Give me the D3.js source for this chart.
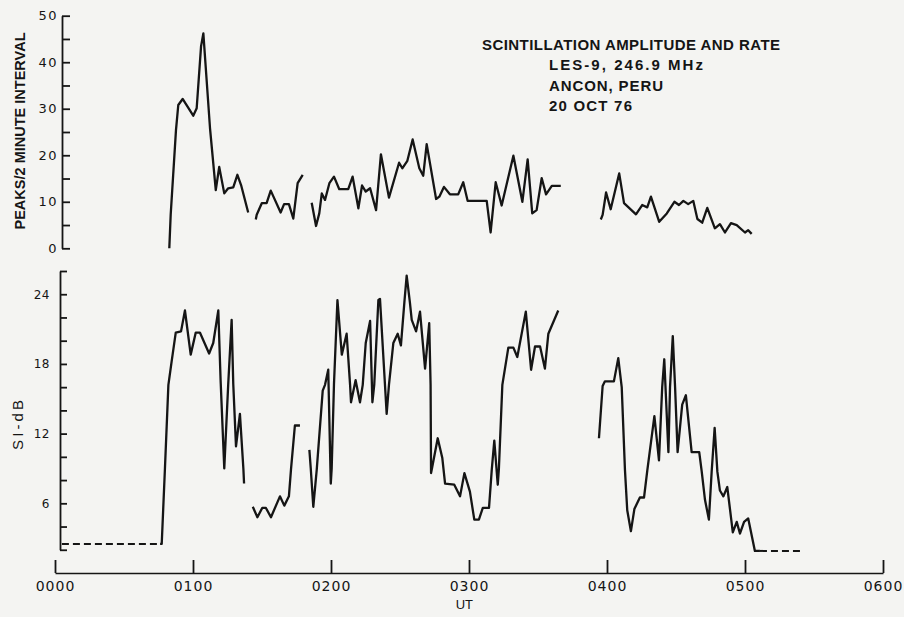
<!DOCTYPE html>
<html>
<head>
<meta charset="utf-8">
<script src="https://cdn.jsdelivr.net/npm/d3@7"></script>
<style>
  html, body { margin: 0; padding: 0; background: #f4f4f2; }
  svg { display: block; }
</style>
</head>
<body>
<svg id="chart" width="904" height="617"></svg>
<script>
// Time is in minutes after 0000 UT.
// Scintillation rate (peaks per 2-minute interval), one array per recorded stretch.
const rateA = [[49.7,0],[50.3,7.2],[52.6,25.4],[53.6,30.8],[55.5,32.1],[60.1,28.5],[61.6,30.1],[63.5,43.4],[64.5,46.2],[67.4,25.8],[69.9,12.5],[71.4,17.5],[73.6,11.8],[75.3,12.9],[77.5,13.1],[79.3,15.8],[80.9,13.6],[84,7.7]];
const rateB = [[87.3,6.2],[87.7,7.2],[89.9,9.7],[92,9.7],[93.8,12.4],[98.1,7.7],[99.6,9.5],[101.7,9.5],[103.6,6.4],[105.5,14],[107.7,15.8]];
const rateC = [[111.6,9.8],[113.5,4.8],[114.9,7.5],[116,11.8],[117.4,10.4],[119.3,14],[121.3,15.4],[123.6,12.7],[127.5,12.7],[129.4,15.4],[131.9,8.6],[133.5,13.5],[135.1,12.2],[137,12.9],[139.6,8.2],[141.7,20.2],[145.2,10.9],[149.6,18.4],[151,17.2],[153.2,18.8],[155.5,23.4],[158.4,17.2],[160.1,15.6],[161.6,22.4],[165.7,10.6],[167.1,11.1],[169.1,13.2],[171.7,11.6],[175.3,11.6],[177.5,14.2],[179.4,10.2],[187.7,10.2],[189.4,3.4],[191.6,14.2],[194.2,9.2],[199.3,19.9],[203.2,10],[205.5,19.1],[207.5,7.5],[209.4,8.2],[211.6,15.1],[213.5,11.6],[216,13.4],[219.9,13.4]];
const rateD = [[237.3,6.2],[238.1,7.2],[239.6,12],[241.6,8.4],[245.3,16.1],[247.4,9.7],[252.6,7.3],[255.3,9.3],[257.5,8.8],[259.1,11.1],[262.7,5.7],[266,7.5],[269.3,10],[271.3,9.3],[273.2,10.2],[275.3,9.5],[277.5,10.2],[279.3,6.3],[281.4,5.5],[283.6,8.7],[286.9,4.3],[289.1,5.2],[291.3,3.4],[293.9,5.4],[296.4,5],[300,3.4],[301.4,3.9],[302.9,3.1]];

// Scintillation index (dB), one array per recorded stretch; dashed = noise floor.
const ampFloorBefore = [[3,2.5],[46.4,2.5]];
const ampA = [[45.7,2.5],[46.4,2.5],[47.8,9.0],[49.3,16.2],[50.7,18.2],[52.5,20.7],[54.8,20.8],[56.5,22.6],[59,18.8],[61.2,20.7],[63,20.7],[67,18.9],[68.8,19.8],[71,22.6],[72,16.6],[73.6,9.0],[75.3,16.2],[76.8,21.8],[77.5,16.3],[78.7,10.9],[80.4,13.7],[81.9,9.0],[82.2,7.7]];
const ampB = [[86,5.7],[88,4.8],[90.1,5.6],[91.7,5.6],[93.9,4.8],[97.8,6.6],[99.7,5.8],[101.7,6.6],[102.6,8.9],[104.3,12.7],[106.5,12.7]];
const ampC = [[110.6,10.6],[111.2,9],[112.3,5.7],[113.8,8.9],[116.4,15.7],[117.4,16.2],[118.8,17.5],[119.9,7.7],[120.3,9.0],[121.3,16.3],[122.8,23.5],[124.7,18.8],[126.8,20.6],[128.3,16.2],[128.7,14.7],[130.7,16.6],[132.6,14.7],[133.8,16.2],[135.1,19.8],[137,21.7],[138,14.7],[138.8,16.2],[140.6,23.5],[141.3,23.6],[144.2,13.7],[145.2,16.2],[147.1,19.8],[149,20.6],[150.4,19.6],[151.9,23.3],[152.9,25.6],[154.3,23.3],[155.1,21.8],[157,20.8],[158.7,22.5],[160.9,17.6],[162.7,21.5],[163.3,16.2],[163.5,8.6],[164,9.1],[166.4,11.6],[168.4,9.9],[169.6,7.7],[173.6,7.6],[176.1,6.6],[178,8.6],[180.4,7.0],[182.3,4.6],[184.3,4.6],[186,5.6],[188.7,5.6],[189.9,8.9],[191,11.4],[192.5,7.6],[193,9],[194.5,16.2],[197.1,19.4],[199.3,19.4],[201,18.6],[204.7,22.5],[207,17.5],[208.7,19.5],[210.9,19.5],[213,17.6],[214.5,20.6],[218.8,22.6]];
const ampD = [[236.5,11.6],[238.1,16.1],[239.1,16.5],[243,16.5],[244.9,18.5],[246.4,16],[247.8,8.9],[248.8,5.4],[250.4,3.6],[251.9,5.5],[254.3,6.5],[256.1,6.5],[257.5,8.8],[260.6,13.5],[262.6,9.7],[264,16],[264.9,18.4],[266.7,10.4],[267.4,16],[268.6,20.4],[269.6,16],[270.7,10.4],[272.7,14.5],[274.3,15.3],[276.8,10.4],[280.1,10.4],[281.2,8.7],[282.6,6.3],[284.3,4.6],[285.5,8.7],[286.8,12.5],[288,8.7],[289.1,7.1],[290.6,6.6],[292.3,7.4],[294.7,3.5],[296.4,4.4],[297.8,3.4],[299.6,4.4],[301.4,4.7],[304.3,1.9],[306.5,1.9]];
const ampFloorAfter = [[306.5,1.9],[324.7,1.9]];

// Axis ticks and labels
const hourTicks = [0, 60, 120, 180, 240, 300, 360];
const hourLabels = ["0000", "0100", "0200", "0300", "0400", "0500", "0600"];
const rateTicks = [0, 5, 10, 15, 20, 25, 30, 35, 40, 45, 50];
const ampTicks = [2, 4, 6, 8, 10, 12, 14, 16, 18, 20, 22, 24, 26];

const titleLines = ["SCINTILLATION AMPLITUDE AND RATE", "LES-9,  246.9 MHz", "ANCON,  PERU", "20 OCT 76"];

const ink = "#151515";
const svg = d3.select("#chart");

const x = d3.scaleLinear().domain([0, 360]).range([55, 883]);
const yRate = d3.scaleLinear().domain([0, 50]).range([248.3, 15.7]);
const yAmp = d3.scaleLinear().domain([0, 26]).range([573, 271]);
const yAmpAxis = yAmp.copy().domain([2, 26]).range([yAmp(2), yAmp(26)]);

function styleAxis(g, fontSize, family, spacing) {
  g.select(".domain").attr("stroke", ink).attr("stroke-width", 1.8);
  g.selectAll(".tick line").attr("stroke", ink).attr("stroke-width", 1.8);
  g.selectAll(".tick text")
    .attr("fill", ink)
    .style("font-family", family)
    .style("font-size", fontSize + "px")
    .style("letter-spacing", spacing + "px");
  g.attr("font-family", null).attr("font-size", null);
}

// Time axis along the bottom, ticks pointing up
const gx = svg.append("g").attr("transform", "translate(0,573)")
  .call(d3.axisBottom(x).tickValues(hourTicks)
    .tickFormat((d, i) => hourLabels[i])
    .tickSizeInner(-13).tickSizeOuter(0).tickPadding(8));
styleAxis(gx, 14, "'DejaVu Sans', sans-serif", 1);
gx.select(".domain").attr("stroke-width", 1.4);

// Rate axis (upper panel)
const gr = svg.append("g").attr("transform", "translate(62,0)")
  .call(d3.axisLeft(yRate).tickValues(rateTicks)
    .tickFormat(d => d % 10 === 0 ? d : "")
    .tickSizeInner(-8).tickSizeOuter(0).tickPadding(4));
styleAxis(gr, 13, "'DejaVu Sans', sans-serif", 1.5);

// Scintillation index axis (lower panel)
const ga = svg.append("g").attr("transform", "translate(60,0)")
  .call(d3.axisLeft(yAmpAxis).tickValues(ampTicks)
    .tickFormat(d => d % 6 === 0 ? d : "")
    .tickSizeInner(-7).tickSizeOuter(0).tickPadding(10));
styleAxis(ga, 12, "'DejaVu Sans', sans-serif", 0.5);

// Data traces
const rateLine = d3.line().x(d => x(d[0])).y(d => yRate(d[1]));
const ampLine = d3.line().x(d => x(d[0])).y(d => yAmp(d[1]));

const traces = svg.append("g")
  .attr("fill", "none").attr("stroke", ink)
  .attr("stroke-width", 2.3).attr("stroke-linejoin", "round").attr("stroke-linecap", "butt");

[rateA, rateB, rateC, rateD].forEach(seg => traces.append("path").attr("d", rateLine(seg)));
[ampA, ampB, ampC, ampD].forEach(seg => traces.append("path").attr("d", ampLine(seg)));
[ampFloorBefore, ampFloorAfter].forEach(seg =>
  traces.append("path").attr("d", ampLine(seg)).attr("stroke-dasharray", "7,4").attr("stroke-width", 2));

// Axis titles
const labelFont = "'Liberation Sans', Arial, sans-serif";
svg.append("text")
  .attr("transform", "translate(25,131) rotate(-90)")
  .attr("text-anchor", "middle")
  .attr("textLength", 197).attr("lengthAdjust", "spacingAndGlyphs")
  .style("font-family", labelFont).style("font-weight", "bold").style("font-size", "14px")
  .attr("fill", ink)
  .text("PEAKS/2 MINUTE INTERVAL");

svg.append("text")
  .attr("transform", "translate(23,425) rotate(-90)")
  .attr("text-anchor", "middle")
  .attr("textLength", 50).attr("lengthAdjust", "spacing")
  .style("font-family", labelFont).style("font-size", "15px")
  .attr("fill", ink)
  .text("SI-dB");

svg.append("text")
  .attr("x", x(178)).attr("y", 609)
  .attr("text-anchor", "middle")
  .style("font-family", labelFont).style("font-size", "13px")
  .attr("fill", ink)
  .text("UT");

// Title block
const titleX = [482, 549, 549, 549];
const titleW = [298, 154, 114, 83];
const titleY = [50, 70, 91, 111];
svg.append("g").selectAll("text").data(titleLines).join("text")
  .attr("x", (d, i) => titleX[i]).attr("y", (d, i) => titleY[i])
  .attr("textLength", (d, i) => titleW[i]).attr("lengthAdjust", "spacing")
  .style("font-family", labelFont).style("font-weight", "bold").style("font-size", "15px")
  .attr("fill", ink)
  .text(d => d);
</script>
</body>
</html>
